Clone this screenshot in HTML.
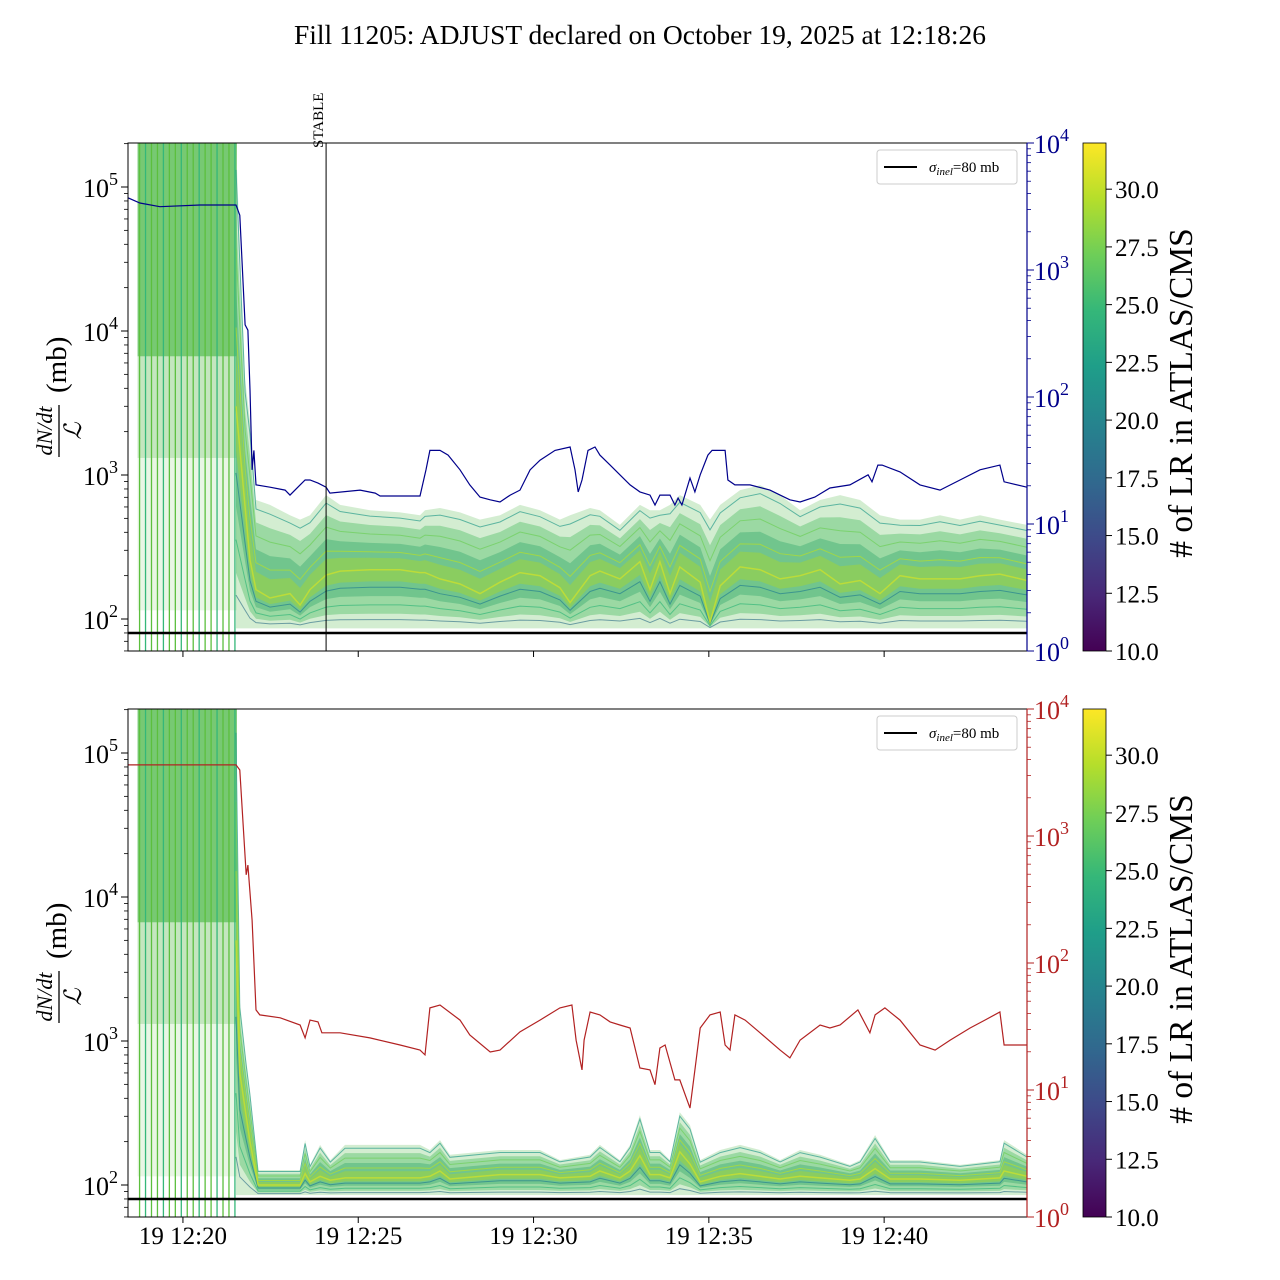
<!DOCTYPE html>
<html><head><meta charset="utf-8">
<style>
html,body{margin:0;padding:0;background:#fff;}
svg{display:block;font-family:"Liberation Serif","DejaVu Serif",serif;}
</style></head>
<body>
<svg id="chart" width="1280" height="1280" viewBox="0 0 1280 1280" xmlns="http://www.w3.org/2000/svg">
<defs>
<linearGradient id="viridis" x1="0" y1="1" x2="0" y2="0">
<stop offset="0" stop-color="#440154"/><stop offset="0.11" stop-color="#482878"/><stop offset="0.22" stop-color="#3e4989"/><stop offset="0.33" stop-color="#31688e"/><stop offset="0.44" stop-color="#26828e"/><stop offset="0.56" stop-color="#1f9e89"/><stop offset="0.67" stop-color="#35b779"/><stop offset="0.78" stop-color="#6ece58"/><stop offset="0.89" stop-color="#b5de2b"/><stop offset="1" stop-color="#fde725"/>
</linearGradient>
</defs>
<text x="640" y="44" text-anchor="middle" font-size="27.5">Fill 11205: ADJUST declared on October 19, 2025 at 12:18:26</text>
<g id="top"></g><g id="bot"></g>
</svg>
<script>
// ---- data ----
const T0 = 18.433; // start minute after 12:00 (12:18:26)
const xTickMinutes = [20, 25, 30, 35, 40];
const xTickLabels = ["19 12:20", "19 12:25", "19 12:30", "19 12:35", "19 12:40"];
const leftTickExps = [2, 3, 4, 5];
const rightTickExps = [0, 1, 2, 3, 4];
const cbarTicks = [10.0, 12.5, 15.0, 17.5, 20.0, 22.5, 25.0, 27.5, 30.0];
const stableMinute = 5.65;
const sigmaInel = 80;
const spikeTimes = [0.33,0.50,0.67,0.84,1.01,1.18,1.35,1.52,1.69,1.86,2.03,2.20,2.37,2.54,2.71,2.88,3.05];

const topLineT = [0,0.34,0.91,2.05,3.08,3.19,3.34,3.42,3.48,3.54,3.59,3.65,4.05,4.48,4.62,4.91,5.05,5.19,5.42,5.65,5.76,6.62,7.05,7.19,8.33,8.50,8.61,8.90,9.13,9.47,9.75,10.04,10.33,10.61,10.90,11.18,11.47,11.75,12.18,12.61,12.75,12.84,12.95,13.12,13.32,13.46,13.75,14.03,14.32,14.60,14.89,15.03,15.17,15.46,15.60,15.69,15.80,16.03,16.17,16.32,16.54,16.66,17.03,17.11,17.31,17.74,18.31,18.60,18.88,19.17,19.59,20.02,20.59,21.11,21.22,21.39,21.51,22.02,22.59,23.16,23.73,24.30,24.87,24.99,25.64];
const topLineV = [3700,3370,3150,3250,3250,2700,370,336,114,26.7,38,20.3,19.5,18.5,16.9,20.3,22.2,22.2,21,19.5,17.5,18.5,17.5,16.6,16.6,26.7,38,38,34.9,26.7,20.3,16.3,15.5,14.9,16.9,18.5,26.7,31.8,38,40.4,26.7,17.9,22.2,38,40.4,34.9,29.1,24.4,20.3,17.9,16.9,14.1,16.9,16.9,14.1,16,14.1,23,17.9,24.4,34.9,38,38,22.2,20.3,20.3,18.5,16.9,15.5,14.9,16.3,19.2,20.3,24.4,21.5,29.1,29.1,25.7,20.3,18.5,22.2,26.7,29.1,21.5,19.5];

const botLineT = [0,3.08,3.19,3.37,3.42,3.54,3.65,3.76,4.34,4.91,5.05,5.19,5.42,5.53,6.05,6.90,7.76,8.33,8.47,8.61,8.90,9.47,9.75,10.33,10.61,11.18,11.75,12.32,12.66,12.78,12.95,13.01,13.18,13.46,13.75,14.03,14.32,14.60,14.89,15.03,15.17,15.32,15.60,15.74,16.03,16.17,16.32,16.60,16.89,17.03,17.17,17.31,17.60,18.03,18.60,18.88,19.17,19.74,20.02,20.31,20.82,21.16,21.31,21.59,22.02,22.59,23.02,23.45,24.02,24.44,24.87,24.99,25.64];
const botLineV = [3630,3630,3310,495,590,217,42.7,39,37,32.5,25.7,35.5,34.4,28.2,28.2,25.7,22.6,20.6,18.9,44.3,46.7,35.5,27.1,19.9,20.6,28.7,35.5,44.3,46.7,24.7,14.4,24.7,41.1,39,34.4,32.5,30.8,14.9,14.4,11,21.4,22.6,12,12,7.2,14.4,30.8,39,41.1,22.6,20.6,39,35.5,28.2,20.6,17.9,24.7,32.5,30.8,32.5,42.7,28.2,39,44.3,35.5,22.6,20.6,24.7,30.8,35.5,41.1,22.6,22.6];

const topBandT = [3.08,3.34,3.48,3.65,4.05,4.62,4.91,5.19,5.65,6.05,6.90,7.76,8.33,8.47,8.90,9.47,10.04,10.61,11.18,11.75,12.32,12.61,13.18,13.46,14.03,14.60,14.89,15.17,15.46,15.74,16.32,16.60,16.89,17.46,18.03,18.60,19.17,19.74,20.31,20.88,21.45,22.02,22.59,23.16,23.73,24.30,24.87,25.64];
const topBandUpper = [200000,4600,2400,670,620,525,490,525,725,620,570,550,525,570,590,550,490,525,620,570,490,525,590,570,450,620,570,570,620,725,620,490,620,785,850,725,570,670,725,670,525,490,490,525,490,525,490,450];
const topBandCore = [3000,600,257,160,140,150,125,160,202,215,220,220,210,210,190,175,150,180,210,200,165,130,200,215,190,250,160,250,150,230,180,95,170,230,220,190,200,220,175,185,150,200,190,190,190,200,205,185];
const topBandLower = 86;

const botBandT = [3.08,3.19,3.37,3.48,3.71,4.91,5.05,5.19,5.48,5.77,6.19,7.76,8.33,8.61,8.90,9.18,10.61,11.75,12.32,13.18,13.46,14.03,14.32,14.60,14.89,15.17,15.46,15.74,16.03,16.32,16.89,17.46,18.03,18.60,19.17,19.74,20.59,20.88,21.31,21.74,22.59,23.73,24.87,24.99,25.64];
const botBandUpper = [200000,1900,740,455,127,127,205,138,190,149,190,190,190,175,205,162,175,175,149,162,190,149,190,306,175,175,149,320,260,149,175,190,175,149,175,162,138,149,222,149,149,138,149,205,162];
const botBandCore = [5000,600,300,200,100,100,120,105,115,108,112,112,112,115,125,110,118,118,112,115,125,112,125,160,118,118,112,170,140,105,115,120,115,110,115,112,108,110,130,110,110,108,112,125,115];
const botBandLower = 85;

// ---- drawing ----
const NS = "http://www.w3.org/2000/svg";
const X0 = 128, X1 = 1027, PXMIN = 35.06;
const xs = t => X0 + t * PXMIN; // t = minutes since start
function el(tag, attrs, parent, text){
  const e = document.createElementNS(NS, tag);
  for (const k in attrs) e.setAttribute(k, attrs[k]);
  if (text !== undefined) e.textContent = text;
  parent.appendChild(e); return e;
}
function pathOf(ts, vs, fx, fy){
  return ts.map((t,i)=>(i?"L":"M")+fx(t).toFixed(1)+","+fy(vs[i]).toFixed(1)).join(" ");
}

function panel(g, Y0, Y1, lineT, lineV, lineColor, bandT, up, core, low, stable, tag){
  const yl = v => Y0 + 476 - 144 * (Math.log10(v) - 2);  // left axis: 10^2 at Y0+476
  const yr = v => Y1 - 127 * Math.log10(v);              // right axis 10^0..10^4
  const clipId = "clip-" + tag;
  const cp = el("clipPath", {id: clipId}, g);
  el("rect", {x: X0, y: Y0, width: X1 - X0, height: Y1 - Y0}, cp);
  const plot = el("g", {"clip-path": "url(#" + clipId + ")"}, g);
  
  

  // pre-ramp dense region
  const rx = xs(spikeTimes[0]) - 2, rw = xs(spikeTimes[spikeTimes.length-1]) - xs(spikeTimes[0]) + 4;
  const pre = el("rect", {x: rx, y: Y0, width: rw, height: (Y1 - Y0) * 0.42, fill: "#5fbf5a", opacity: 0.85}, plot);
  
  
  el("rect", {x: rx, y: Y0 + (Y1 - Y0) * 0.42, width: rw, height: (Y1 - Y0) * 0.2, fill: "#7cc870", opacity: 0.45}, plot);
  el("rect", {x: rx, y: Y0 + (Y1 - Y0) * 0.62, width: rw, height: (Y1 - Y0) * 0.3, fill: "#a8dc98", opacity: 0.25}, plot);
  spikeTimes.forEach((t, i) => {
    const ln = el("line", {x1: xs(t), x2: xs(t), y1: Y0, y2: Y1, stroke: i % 3 === 1 ? "#35b779" : "#5cbf3e", "stroke-width": 1.3}, plot);
    
    
  });

  // band: outer envelope
  const outer = pathOf(bandT, up, xs, yl) + " L" + xs(bandT[bandT.length-1]) + "," + yl(low) + " L" + xs(bandT[0]) + "," + yl(low) + " Z";
  const ob = el("path", {d: outer, fill: "#9ed89a", opacity: 0.45}, plot);
  
  
  const layers = [
    {f: 0.75, color: "#57c06a", op: 0.45},
    {f: 0.45, color: "#3fae74", op: 0.45},
    {f: 0.2, color: "#9fd43c", op: 0.55}
  ];
  layers.forEach((L) => {
    const hi = bandT.map((t,i)=> core[i] * Math.pow(up[i]/core[i], L.f));
    const lo = bandT.map((t,i)=> core[i] * Math.pow(low/core[i], L.f));
    let d = pathOf(bandT, hi, xs, yl);
    for (let i = bandT.length - 1; i >= 0; i--) d += " L" + xs(bandT[i]).toFixed(1) + "," + yl(lo[i]).toFixed(1);
    const p = el("path", {d: d + " Z", fill: L.color, opacity: L.op}, plot);
    
    
  });
  const fr = [0.9, 0.6, 0.3, -0.3, -0.6, -0.85];
  const cols = ["#2a9d8c", "#6ece58", "#b5de2b", "#26828e", "#35b779", "#3e7a8e"];
  fr.forEach((f, k) => {
    const vals = bandT.map((t,i)=> f >= 0 ? core[i] * Math.pow(up[i]/core[i], f) : core[i] * Math.pow(low/core[i], -f));
    const p = el("path", {d: pathOf(bandT, vals, xs, yl), fill: "none", stroke: cols[k], "stroke-width": 1, opacity: 0.7}, plot);
    
    
  });
  const cl = el("path", {d: pathOf(bandT, core, xs, yl), fill: "none", stroke: "#c8e030", "stroke-width": 1.5, opacity: 0.8}, plot);
  
  

  const sl = el("line", {x1: X0, x2: X1, y1: yl(sigmaInel), y2: yl(sigmaInel), stroke: "#000", "stroke-width": 2.5}, plot);
  
  

  const ll = el("path", {d: pathOf(lineT, lineV, xs, yr), fill: "none", stroke: lineColor, "stroke-width": 1.2}, plot);
  
  

  if (stable) {
    const st = el("line", {x1: xs(stableMinute), x2: xs(stableMinute), y1: Y0, y2: Y1, stroke: "#000", "stroke-width": 1}, g);
    
    
    const tx = el("text", {x: 0, y: 0, "font-size": 15, "text-anchor": "start", transform: "translate(" + (xs(stableMinute) - 3) + "," + (Y0 + 5) + ") rotate(-90)"}, g, "STABLE");
    
    
  }

  const fr2 = el("rect", {x: X0, y: Y0, width: X1 - X0, height: Y1 - Y0, fill: "none", stroke: "#000", "stroke-width": 1}, g);
  
  

  leftTickExps.concat([1]).forEach(e => {
    for (let m = 1; m < 10; m++) {
      const v = m * Math.pow(10, e);
      const y = yl(v);
      if (y < Y0 || y > Y1) continue;
      el("line", {x1: X0, x2: X0 - (m === 1 ? 7 : 4), y1: y, y2: y, stroke: "#000", "stroke-width": m === 1 ? 1 : 0.8}, g);
    }
  });
  leftTickExps.forEach(e => {
    const y = yl(Math.pow(10, e));
    const t = el("text", {x: 83, y: y + 10, "font-size": 26}, g);
    
    
    t.appendChild(document.createTextNode("10"));
    el("tspan", {dy: -12, "font-size": 18}, t, String(e));
  });
  rightTickExps.forEach(e => {
    for (let m = 1; m < 10; m++) {
      const v = m * Math.pow(10, e);
      const y = yr(v);
      if (y < Y0 - 0.5 || y > Y1 + 0.5) continue;
      el("line", {x1: X1, x2: X1 + (m === 1 ? 7 : 4), y1: y, y2: y, stroke: lineColor, "stroke-width": m === 1 ? 1 : 0.8}, g);
    }
    const y = yr(Math.pow(10, e));
    const t = el("text", {x: 1034, y: y + 10, "font-size": 26, fill: lineColor}, g);
    
    
    t.appendChild(document.createTextNode("10"));
    el("tspan", {dy: -12, "font-size": 18}, t, String(e));
  });
  el("line", {x1: X1, x2: X1, y1: Y0, y2: Y1, stroke: lineColor, "stroke-width": 1.2}, g);

  xTickMinutes.forEach((m, i) => {
    const x = xs(m - T0);
    el("line", {x1: x, x2: x, y1: Y1, y2: Y1 + 6, stroke: "#000"}, g);
    if (tag === "bottom") {
      const t = el("text", {x: x, y: Y1 + 27, "font-size": 25, "text-anchor": "middle"}, g, xTickLabels[i]);
      
      
    }
  });

  const cy = (Y0 + Y1) / 2;
  const yt = el("g", {transform: "translate(62," + (cy - 14) + ") rotate(-90)"}, g);
  
  
  el("text", {x: -48, y: -10, "font-size": 22, "font-style": "italic", "text-anchor": "middle"}, yt, "dN/dt");
  el("line", {x1: -74, x2: -22, y1: -3, y2: -3, stroke: "#000", "stroke-width": 1.3}, yt);
  el("text", {x: -48, y: 19, "font-size": 24, "font-style": "italic", "text-anchor": "middle"}, yt, "ℒ");
  el("text", {x: -10, y: 4, "font-size": 29}, yt, "(mb)");

  const lg = el("g", {}, g);
  
  
  el("rect", {x: 877, y: Y0 + 7, width: 140, height: 34, rx: 3, fill: "#fff", stroke: "#ccc"}, lg);
  el("line", {x1: 884, x2: 917, y1: Y0 + 24, y2: Y0 + 24, stroke: "#000", "stroke-width": 2}, lg);
  const lt = el("text", {x: 929, y: Y0 + 29, "font-size": 15}, lg);
  el("tspan", {"font-style": "italic"}, lt, "σ");
  el("tspan", {"font-style": "italic", "font-size": 11, dy: 3}, lt, "inel");
  el("tspan", {dy: -3}, lt, "=80 mb");

  const cb = el("rect", {x: 1083, y: Y0, width: 23, height: Y1 - Y0, fill: "url(#viridis)", stroke: "#000", "stroke-width": 0.8}, g);
  
  
  const cv = v => Y1 - (v - 10) / 22 * (Y1 - Y0);
  cbarTicks.forEach(v => {
    const y = cv(v);
    el("line", {x1: 1106, x2: 1112, y1: y, y2: y, stroke: "#000"}, g);
    const t = el("text", {x: 1115, y: y + 9, "font-size": 25}, g, v.toFixed(1));
    
    
  });
  const cl2 = el("text", {x: 0, y: 0, "font-size": 33.5, "text-anchor": "middle", transform: "translate(1192," + (cy - 4) + ") rotate(-90)"}, g, "# of LR in ATLAS/CMS");
  
  
}

panel(document.getElementById("top"), 143, 651, topLineT, topLineV, "#00008b", topBandT, topBandUpper, topBandCore, topBandLower, true, "top");
panel(document.getElementById("bot"), 709, 1217, botLineT, botLineV, "#b22222", botBandT, botBandUpper, botBandCore, botBandLower, false, "bottom");
</script>
</body></html>
